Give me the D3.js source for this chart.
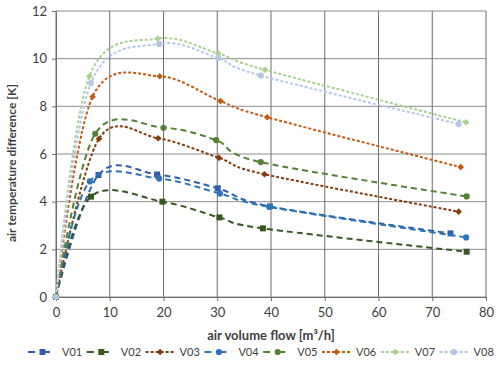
<!DOCTYPE html>
<html>
<head>
<meta charset="utf-8">
<script src="https://cdn.jsdelivr.net/npm/d3@7"></script>
<style>
  body { margin: 0; background: #fff; }
  text { font-family: Lato, "Liberation Sans", sans-serif; }
</style>
</head>
<body>
<svg id="chart" width="501" height="372"></svg>
<script>
// series names and point values [flow, dT]
var names = ["V01", "V02", "V03", "V04", "V05", "V06", "V07", "V08"];
var v01 = [[0, 0], [7.9, 5.12], [18.8, 5.14], [30.1, 4.56], [39.8, 3.8], [73.4, 2.67]];
var v02 = [[0, 0], [6.5, 4.21], [19.8, 4.0], [30.4, 3.34], [38.5, 2.88], [76.4, 1.9]];
var v03 = [[0, 0], [8.0, 6.64], [19.0, 6.66], [30.3, 5.84], [38.8, 5.15], [74.9, 3.58]];
var v04 = [[0, 0], [6.3, 4.85], [19.2, 4.97], [30.5, 4.34], [39.7, 3.78], [76.3, 2.5]];
var v05 = [[0, 0], [7.3, 6.85], [20.0, 7.1], [29.8, 6.58], [38.1, 5.66], [76.4, 4.22]];
var v06 = [[0, 0], [6.8, 8.4], [19.3, 9.26], [30.6, 8.22], [39.3, 7.54], [75.3, 5.45]];
var v07 = [[0, 0], [6.2, 9.26], [18.9, 10.84], [30.2, 10.21], [38.9, 9.53], [76.3, 7.33]];
var v08 = [[0, 0], [6.5, 8.98], [19.2, 10.62], [30.2, 10.02], [38.1, 9.29], [74.9, 7.26]];
var xTicks = [0, 10, 20, 30, 40, 50, 60, 70, 80];
var yTicks = [0, 2, 4, 6, 8, 10, 12];

var values = [v01, v02, v03, v04, v05, v06, v07, v08];
var colors = ["#2f5fa8", "#385723", "#843c0c", "#2e75b6", "#548235", "#c55a11", "#a9d18e", "#b4c7e7"];
var marks = ["square", "square", "diamond", "circle", "circle", "diamond", "diamond", "circle"];
var dashes = ["6,4", "6,4", "3,2", "6,4", "6,4", "3,2", "3,2", "3,2"];

var margin = {top: 11, right: 15, bottom: 75, left: 56},
    width = 501 - margin.left - margin.right,
    height = 372 - margin.top - margin.bottom;

var x = d3.scaleLinear().domain([0, 80]).range([0, width]);
var y = d3.scaleLinear().domain([0, 12]).range([height, 0]);

var svg = d3.select("#chart")
  .append("g")
    .attr("transform", "translate(" + margin.left + "," + margin.top + ")");

// gridlines
svg.append("g").selectAll("line").data(yTicks).enter().append("line")
    .attr("x1", 0).attr("x2", width)
    .attr("y1", function(d) { return y(d); }).attr("y2", function(d) { return y(d); })
    .attr("stroke", "#8c8c8c").attr("stroke-width", 1);
svg.append("g").selectAll("line").data(xTicks).enter().append("line")
    .attr("y1", 0).attr("y2", height)
    .attr("x1", function(d) { return x(d); }).attr("x2", function(d) { return x(d); })
    .attr("stroke", "#6e6e6e").attr("stroke-width", 1);

var xAxis = d3.axisBottom(x).tickValues(xTicks).tickSize(4).tickPadding(7);
var yAxis = d3.axisLeft(y).tickValues(yTicks).tickSize(4).tickPadding(5);

var gx = svg.append("g").attr("transform", "translate(0," + height + ")").call(xAxis);
var gy = svg.append("g").call(yAxis);
[gx, gy].forEach(function(g) {
  g.selectAll("path, line").attr("stroke", "#6e6e6e");
  g.selectAll("text").attr("font-size", 13).attr("fill", "#404040").attr("font-family", "Lato, sans-serif");
});

svg.append("text")
    .attr("x", width / 2).attr("y", height + 43)
    .attr("text-anchor", "middle").attr("font-size", 13).attr("font-weight", "bold").attr("fill", "#404040")
    .text("air volume flow [m³/h]");

svg.append("text")
    .attr("transform", "translate(-40," + (height / 2 + 9) + ") rotate(-90)")
    .attr("text-anchor", "middle").attr("font-size", 12).attr("font-weight", "bold").attr("fill", "#404040")
    .text("air temperature difference [K]");

var line = d3.line()
    .x(function(d) { return x(d[0]); })
    .y(function(d) { return y(d[1]); })
    .curve(d3.curveCardinal);

function marker(g, type, color) {
  if (type === "square") {
    g.append("path").attr("d", d3.symbol(d3.symbolSquare, 36)()).attr("fill", color);
  } else if (type === "circle") {
    g.append("path").attr("d", d3.symbol(d3.symbolCircle, 30)()).attr("fill", color);
  } else {
    g.append("path").attr("d", d3.symbol(d3.symbolSquare, 22)()).attr("transform", "rotate(45)").attr("fill", color);
  }
}

values.forEach(function(v, i) {
  svg.append("path")
      .datum(v)
      .attr("d", line)
      .attr("fill", "none")
      .attr("stroke", colors[i])
      .attr("stroke-width", 2)
      .attr("stroke-dasharray", dashes[i]);
  v.forEach(function(d) {
    var g = svg.append("g").attr("transform", "translate(" + x(d[0]) + "," + y(d[1]) + ")");
    marker(g, marks[i], colors[i]);
  });
});

// legend
var legend = d3.select("#chart").append("g").attr("transform", "translate(28,352)");
names.forEach(function(n, i) {
  var g = legend.append("g").attr("transform", "translate(" + (i * 58.8) + ",0)");
  g.append("line").attr("x1", 0).attr("x2", 29).attr("y1", 0).attr("y2", 0)
      .attr("stroke", colors[i]).attr("stroke-width", 2)
      .attr("stroke-dasharray", dashes[i] === "6,4" ? "7,8" : "3,2");
  var m = g.append("g").attr("transform", "translate(14.5,0)");
  marker(m, marks[i], colors[i]);
  g.append("text").attr("x", 34).attr("y", 4).attr("font-size", 11).attr("fill", "#404040").text(n);
});
</script>
</body>
</html>
